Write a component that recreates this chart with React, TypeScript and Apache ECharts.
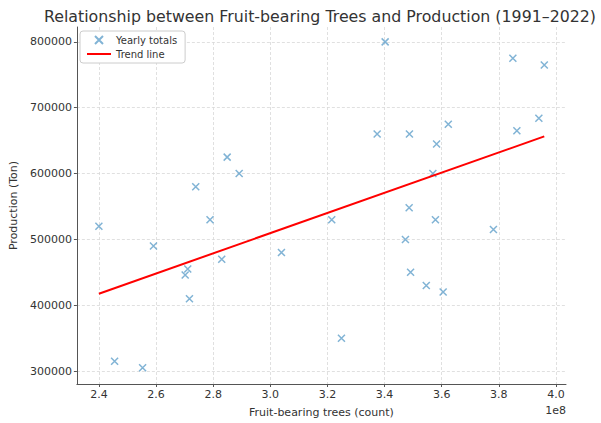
import React, { useEffect, useRef } from "react";
import * as echarts from "echarts";

const treeCounts: number[] = [
  2.40e8, 2.455e8, 2.553e8, 2.591e8, 2.789e8, 2.702e8, 2.711e8, 2.717e8,
  2.830e8, 3.039e8, 3.215e8, 2.739e8, 2.849e8, 2.891e8, 3.402e8, 3.374e8,
  3.487e8, 3.582e8, 3.623e8, 3.569e8, 3.486e8, 3.849e8, 3.959e8, 3.863e8,
  3.940e8, 3.578e8, 3.473e8, 3.781e8, 3.491e8, 3.546e8, 3.605e8, 3.249e8,
];
const production: number[] = [
  520000, 315000, 305000, 490000, 530000, 446000, 455000, 410000,
  470000, 480000, 530000, 580000, 625000, 600000, 800000, 660000,
  660000, 645000, 675000, 600000, 548000, 775000, 765000, 665000,
  684000, 530000, 500000, 515000, 450000, 430000, 420000, 350000,
];
const trendX: number[] = [2.40e8, 3.959e8];
const trendY: number[] = [417500, 656500];
const xTicks: number[] = [2.4e8, 2.6e8, 2.8e8, 3.0e8, 3.2e8, 3.4e8, 3.6e8, 3.8e8, 4.0e8];
const yTicks: number[] = [300000, 400000, 500000, 600000, 700000, 800000];

const TEXT = "#333333";
const FONT = "DejaVu Sans";

export default function App() {
  const ref = useRef<HTMLDivElement>(null);
  useEffect(() => {
    if (!ref.current) return;
    const chart = echarts.init(ref.current, null, { renderer: "svg" });
    const crossPath = "path://M0,0L10,10M10,0L0,10";
    chart.setOption({
      animation: false,
      backgroundColor: "#ffffff",
      textStyle: { fontFamily: FONT },
      title: {
        text: "Relationship between Fruit-bearing Trees and Production (1991–2022)",
        left: 315,
        top: 3,
        textAlign: "center",
        textStyle: { fontFamily: FONT, fontSize: 15.8, fontWeight: "normal", color: TEXT },
      },
      grid: { left: 76, right: 35, top: 27, bottom: 35 },
      legend: {
        orient: "vertical",
        left: 80,
        top: 31,
        backgroundColor: "#ffffff",
        borderColor: "#cccccc",
        borderWidth: 1,
        borderRadius: 3,
        padding: [4, 8, 4, 6],
        itemGap: 4,
        itemWidth: 24,
        itemHeight: 8,
        textStyle: { fontFamily: FONT, fontSize: 10, color: TEXT },
        data: [{ name: "Yearly totals" }, { name: "Trend line" }],
      },
      xAxis: {
        type: "value",
        min: 2.323e8,
        max: 4.035e8,
        name: "Fruit-bearing trees (count)",
        nameLocation: "middle",
        nameGap: 23,
        nameTextStyle: { fontFamily: FONT, fontSize: 11, color: TEXT },
        axisLine: { show: true, lineStyle: { color: "#555555", width: 1 } },
        axisTick: { show: true, length: 3, customValues: xTicks, lineStyle: { color: "#555555" } },
        axisLabel: {
          customValues: xTicks,
          fontFamily: FONT,
          fontSize: 11,
          color: TEXT,
          margin: 5,
          formatter: (v: number) => (v / 1e8).toFixed(1),
        },
        splitLine: { show: true, lineStyle: { color: "#d8d8d8", type: [3, 2], width: 0.8 } },
      },
      yAxis: {
        type: "value",
        min: 280400,
        max: 822600,
        name: "Production (Ton)",
        nameLocation: "middle",
        nameGap: 55,
        nameTextStyle: { fontFamily: FONT, fontSize: 11, color: TEXT },
        axisLine: { show: true, lineStyle: { color: "#555555", width: 1 } },
        axisTick: { show: true, length: 3, customValues: yTicks, lineStyle: { color: "#555555" } },
        axisLabel: {
          customValues: yTicks,
          fontFamily: FONT,
          fontSize: 11,
          color: TEXT,
          margin: 5,
          formatter: (v: number) => String(Math.round(v)),
        },
        splitLine: { show: true, lineStyle: { color: "#d8d8d8", type: [3, 2], width: 0.8 } },
      },
      graphic: [
        {
          type: "text",
          right: 35,
          top: 405,
          style: { text: "1e8", fontFamily: FONT, fontSize: 11, fill: TEXT },
        },
      ],
      series: [
        {
          name: "Yearly totals",
          type: "scatter",
          symbol: crossPath,
          symbolSize: 7,
          itemStyle: { color: "rgba(0,0,0,0)", borderColor: "#62a0ca", borderWidth: 1.5 },
          data: treeCounts.map((x, i) => [x, production[i]]),
          z: 3,
        },
        {
          name: "Trend line",
          type: "line",
          symbol: "none",
          showSymbol: false,
          lineStyle: { color: "#ff0000", width: 2 },
          itemStyle: { color: "rgba(0,0,0,0)", borderWidth: 0 },
          data: trendX.map((x, i) => [x, trendY[i]]),
          z: 4,
        },
      ],
    });
    return () => chart.dispose();
  }, []);
  return (
    <div
      ref={ref}
      style={{ position: "absolute", left: 0, top: 0, width: 601, height: 423 }}
    />
  );
}
